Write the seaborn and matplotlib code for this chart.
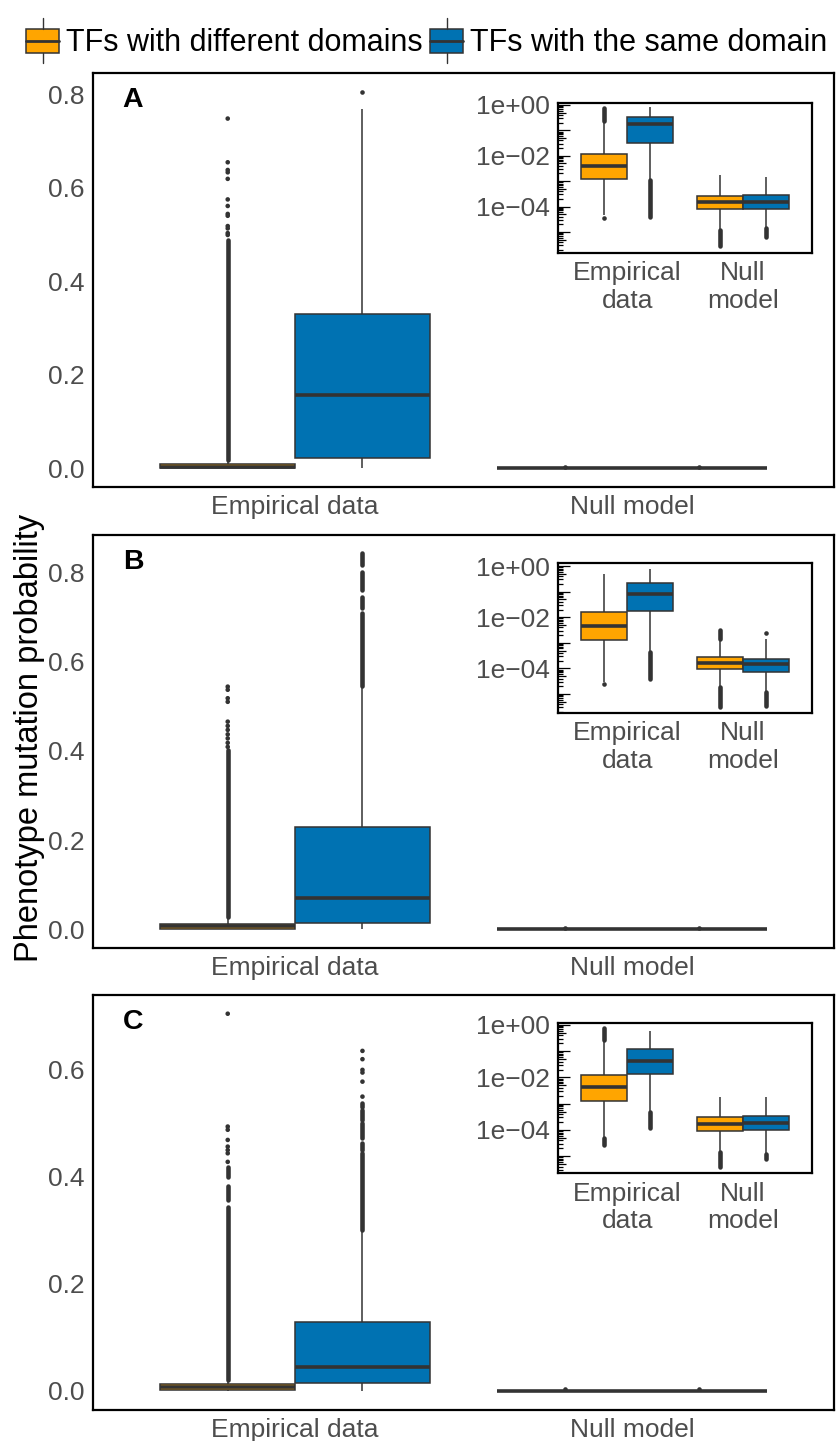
import pandas as pd
import matplotlib
matplotlib.use("Agg")
import matplotlib.pyplot as plt
import matplotlib.transforms as mtrans
from matplotlib.patches import Rectangle
from matplotlib.lines import Line2D
from matplotlib.legend_handler import HandlerBase
from matplotlib.ticker import NullLocator
import seaborn as sns

# Categories
groups = ["Empirical data", "Null model"]
inset_groups = ["Empirical\ndata", "Null\nmodel"]
domains = ["TFs with different domains", "TFs with the same domain"]
colors = ["#FFA500", "#0072B2"]

# Row order in every list: empirical/different, empirical/same, null/different, null/same
# Box summaries: [lower whisker, q1, median, q3, upper whisker]
A_boxes = [[0.0, 0.0005, 0.003, 0.008, 0.018],
           [0.0, 0.022, 0.157, 0.330, 0.768],
           [0.0, 0.00008, 0.00015, 0.00026, 0.0006],
           [0.0, 0.00008, 0.00015, 0.0003, 0.0006]]
A_fliers = [[0.499, 0.503, 0.513, 0.518, 0.540, 0.544, 0.561, 0.575, 0.619, 0.633, 0.638, 0.6545, 0.748],
            [0.804], [0.0025], [0.0025]]
A_streaks = [[(0.018, 0.488)], [], [], []]

B_boxes = [[0.0, 0.0005, 0.007, 0.012, 0.028],
           [0.0, 0.015, 0.069, 0.229, 0.546],
           [0.0, 0.00009, 0.00017, 0.00029, 0.0006],
           [0.0, 0.00007, 0.00015, 0.00024, 0.0006]]
B_fliers = [[0.409, 0.418, 0.428, 0.437, 0.447, 0.456, 0.4655, 0.510, 0.518, 0.537, 0.544],
            [], [0.0025], [0.0025]]
B_streaks = [[(0.028, 0.402)],
             [(0.546, 0.708), (0.720, 0.746), (0.761, 0.800), (0.817, 0.843)], [], []]

C_boxes = [[0.0, 0.0005, 0.007, 0.012, 0.021],
           [0.0, 0.014, 0.044, 0.128, 0.301],
           [0.0, 0.00009, 0.00017, 0.0003, 0.0006],
           [0.0, 0.0001, 0.00019, 0.00034, 0.0006]]
C_fliers = [[0.428, 0.444, 0.450, 0.4565, 0.469, 0.488, 0.494, 0.705],
            [0.550, 0.578, 0.595, 0.600, 0.620, 0.6355], [0.0025], [0.0025]]
C_streaks = [[(0.021, 0.344), (0.357, 0.382), (0.400, 0.419)],
             [(0.301, 0.444), (0.450, 0.463), (0.472, 0.500), (0.506, 0.525), (0.531, 0.538)], [], []]

# Log-scale insets
A_log_boxes = [[4.5e-5, 1.17e-3, 4.0e-3, 1.17e-2, 0.24],
               [1.12e-3, 0.033, 0.174, 0.324, 0.80],
               [1.2e-5, 7.8e-5, 1.48e-4, 2.63e-4, 1.74e-3],
               [1.41e-5, 8.3e-5, 1.48e-4, 2.95e-4, 1.41e-3]]
A_log_fliers = [[3.5e-5], [], [], []]
A_log_streaks = [[(0.24, 0.74)], [(4.0e-5, 1.12e-3)], [(2.8e-6, 1.2e-5)], [(6.2e-6, 1.41e-5)]]

B_log_boxes = [[3.0e-5, 1.26e-3, 4.6e-3, 0.0155, 0.49],
               [4.5e-4, 0.018, 0.078, 0.224, 0.74],
               [1.8e-5, 9.1e-5, 1.66e-4, 2.88e-4, 1.38e-3],
               [1.23e-5, 7.2e-5, 1.45e-4, 2.4e-4, 1.38e-3]]
B_log_fliers = [[2.45e-5], [], [], [2.34e-3]]
B_log_streaks = [[], [(3.7e-5, 4.5e-4)], [(1.38e-3, 3.16e-3), (3.2e-6, 1.8e-5)], [(3.4e-6, 1.23e-5)]]

C_log_boxes = [[4.8e-5, 1.32e-3, 4.3e-3, 0.012, 0.27],
               [5.0e-4, 0.0135, 0.043, 0.126, 0.60],
               [1.48e-5, 8.9e-5, 1.7e-4, 3.0e-4, 1.74e-3],
               [1.23e-5, 1.0e-4, 1.9e-4, 3.4e-4, 1.74e-3]]
C_log_fliers = [[], [], [], []]
C_log_streaks = [[(0.27, 0.74), (2.7e-5, 4.8e-5)], [(1.15e-4, 5.0e-4)], [(3.8e-6, 1.48e-5)], [(7.9e-6, 1.23e-5)]]

combos = [(0, 0), (0, 1), (1, 0), (1, 1)]
DARK = "#333333"

sns.set_style("white")
plt.rcParams["font.family"] = ["Liberation Sans", "DejaVu Sans"]
plt.rcParams["text.color"] = "black"


def draw(ax, boxes, fliers, streaks, labels, log):
    rows = [(labels[g], domains[d], v) for (g, d), vals in zip(combos, boxes) for v in vals]
    df = pd.DataFrame(rows, columns=["group", "domain", "value"])
    sns.boxplot(data=df, x="group", y="value", hue="domain", order=labels, hue_order=domains,
                palette=colors, saturation=1, width=0.8, gap=0, whis=(0, 100),
                showfliers=False, showcaps=False, linewidth=1.1, linecolor=DARK,
                medianprops={"linewidth": 2.6}, log_scale=log, legend=False, ax=ax)
    pts = [(labels[g], domains[d], v) for (g, d), vals in zip(combos, fliers) for v in vals]
    if pts:
        fdf = pd.DataFrame(pts, columns=["group", "domain", "value"])
        sns.stripplot(data=fdf, x="group", y="value", hue="domain", order=labels,
                      hue_order=domains, palette=[DARK, DARK], dodge=True, jitter=False,
                      size=3.3, linewidth=0, log_scale=log, legend=False, ax=ax, zorder=3)
    for (g, d), segs in zip(combos, streaks):
        x = g + (d - 0.5) * 0.4
        for lo, hi in segs:
            ax.plot([x, x], [lo, hi], color=DARK, lw=3.3, solid_capstyle="round", zorder=3)
    ax.set_xlim(-0.6, 1.6)
    ax.set_xlabel("")
    ax.set_ylabel("")
    for s in ax.spines.values():
        s.set_visible(True)
        s.set_color("black")
        s.set_linewidth(1.6)
    ax.tick_params(axis="both", length=4, width=0.9, color=DARK, labelcolor="#4D4D4D",
                   labelsize=19, direction="out", pad=2)


fig = plt.figure(figsize=(8.36, 14.41), dpi=100)
W, H = 836, 1441

main_pos = [(73, 487), (535, 948), (995, 1410)]
inset_pos = [(102.7, 252.7), (562.7, 712.7), (1023.3, 1173.3)]
main_data = [(A_boxes, A_fliers, A_streaks), (B_boxes, B_fliers, B_streaks),
             (C_boxes, C_fliers, C_streaks)]
log_data = [(A_log_boxes, A_log_fliers, A_log_streaks), (B_log_boxes, B_log_fliers, B_log_streaks),
            (C_log_boxes, C_log_fliers, C_log_streaks)]
main_ylims = [(-0.0403, 0.8455), (-0.042, 0.884), (-0.036, 0.740)]
main_yticks = [[0, 0.2, 0.4, 0.6, 0.8], [0, 0.2, 0.4, 0.6, 0.8], [0, 0.2, 0.4, 0.6]]
log_ylims = [(10 ** -5.82, 10 ** 0.09), (10 ** -5.73, 10 ** 0.13), (10 ** -5.65, 10 ** 0.063)]
letters = ["A", "B", "C"]

for i in range(3):
    top, bot = main_pos[i]
    ax = fig.add_axes([93 / W, 1 - bot / H, 741 / W, (bot - top) / H])
    draw(ax, *main_data[i], groups, False)
    ax.set_ylim(*main_ylims[i])
    ax.set_yticks(main_yticks[i])
    ax.set_yticklabels([f"{t:.1f}" for t in main_yticks[i]])
    ax.text(0.054, 0.935, letters[i], transform=ax.transAxes, fontsize=20.5,
            fontweight="bold", ha="center", va="center", color="black")

    itop, ibot = inset_pos[i]
    iw = 253.4
    ins = fig.add_axes([558.3 / W, 1 - ibot / H, iw / W, (ibot - itop) / H])
    ins.set_facecolor("white")
    draw(ins, *log_data[i], inset_groups, True)
    ins.set_ylim(*log_ylims[i])
    ins.set_yticks([1, 1e-2, 1e-4])
    ins.set_yticklabels(["1e+00", "1e\u221202", "1e\u221204"])
    ins.yaxis.set_minor_locator(NullLocator())
    ins.set_xticks([0, 1])
    ins.set_xticklabels(inset_groups)
    # log tick marks inside the left edge
    trans = mtrans.blended_transform_factory(ins.transAxes, ins.transData)
    lo, hi = log_ylims[i]
    for e in range(-7, 1):
        for m in range(1, 10):
            v = m * 10.0 ** e
            if lo <= v <= hi:
                L = 12 if m == 1 else (8 if m == 5 else 5)
                ins.plot([0, L / iw], [v, v], transform=trans, color="black", lw=0.9,
                         solid_capstyle="butt", zorder=4)

fig.text(30 / W, 0.488, "Phenotype mutation probability", rotation=90, fontsize=23.5,
         ha="center", va="center", color="black")


class BoxHandler(HandlerBase):
    def create_artists(self, legend, orig_handle, xdescent, ydescent, width, height, fontsize, trans):
        x0, y0 = -xdescent, -ydescent
        fc = orig_handle.get_facecolor()
        rect = Rectangle((x0, y0 + 0.1 * height), width, 0.8 * height, facecolor=fc,
                         edgecolor=DARK, lw=1.1, transform=trans)
        mid = y0 + 0.5 * height
        med = Line2D([x0, x0 + width], [mid, mid], color=DARK, lw=2, transform=trans)
        xc = x0 + width / 2
        wt = Line2D([xc, xc], [y0 + 0.9 * height, y0 + 1.25 * height], color=DARK, lw=1, transform=trans)
        wb = Line2D([xc, xc], [y0 - 0.25 * height, y0 + 0.1 * height], color=DARK, lw=1, transform=trans)
        return [rect, med, wt, wb]


handles = [Rectangle((0, 0), 1, 1, facecolor=c) for c in colors]
fig.legend(handles, domains, handler_map={Rectangle: BoxHandler()}, loc="upper center",
           bbox_to_anchor=(0.51, 0.995), ncol=2, frameon=False, fontsize=22,
           handlelength=1.1, handleheight=1.15, handletextpad=0.2, columnspacing=0.25,
           borderaxespad=0.2)

fig.savefig("out.png", dpi=100)
